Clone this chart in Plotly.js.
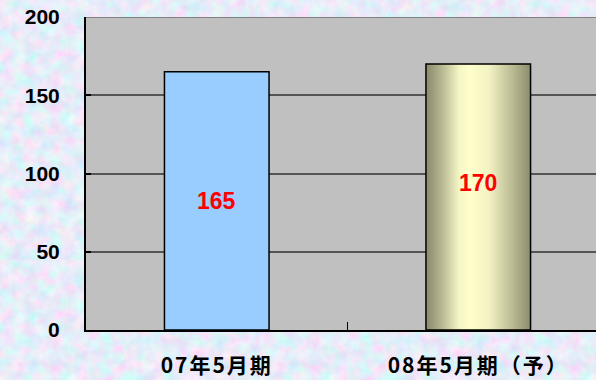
<!DOCTYPE html>
<html>
<head>
<meta charset="utf-8">
<script src="https://cdn.plot.ly/plotly-3.0.1.min.js"></script>
<style>
  html, body { margin: 0; padding: 0; width: 596px; height: 380px; overflow: hidden; }
  #chart { width: 620px; height: 380px; }
  .xtick text { letter-spacing: 2px; }
</style>
</head>
<body>
<div id="chart"></div>
<script>
// Periods and values per period
const categories = ['07年5月期', '08年5月期（予）'];
const values = [165, 170];
const valueLabels = ['165', '170'];
const yTicks = [0, 50, 100, 150, 200];

// Textured lavender / sky-blue backdrop for the whole page
const noiseSvg =
  "<svg xmlns='http://www.w3.org/2000/svg' width='260' height='260'>" +
  "<filter id='n'><feTurbulence type='fractalNoise' baseFrequency='0.08' numOctaves='4' seed='11'/>" +
  "<feColorMatrix type='matrix' values='0.6 -0.2 0 0 0.6  -0.14 0.42 0 0 0.7  0 0 0.16 0 0.86  0 0 0 0 1'/></filter>" +
  "<rect width='100%' height='100%' filter='url(#n)'/></svg>";
document.body.style.background = "#cbd3f2 url(\"data:image/svg+xml," + encodeURIComponent(noiseSvg) + "\")";

const labelShift = [0, 14];

const trace = {
  type: 'bar',
  x: categories,
  y: values,
  width: 0.4,
  marker: {
    color: ['#99ccff', '#eeeebb'],
    line: { color: '#000000', width: 1.5 }
  },
  hoverinfo: 'skip'
};

const annotations = values.map((v, i) => ({
  x: categories[i],
  y: v / 2,
  yshift: labelShift[i],
  text: valueLabels[i],
  showarrow: false,
  font: { family: 'Liberation Sans, Arial, sans-serif', size: 23, color: '#ff0000', weight: 'bold' }
}));

const layout = {
  width: 620,
  height: 380,
  margin: { l: 86, r: 11, t: 17, b: 50 },
  paper_bgcolor: 'rgba(0,0,0,0)',
  plot_bgcolor: '#c0c0c0',
  showlegend: false,
  xaxis: {
    type: 'category',
    range: [-0.5, 1.5],
    showline: true,
    linecolor: '#000000',
    linewidth: 2,
    ticks: 'inside',
    tickson: 'boundaries',
    ticklen: 8,
    tickcolor: '#000000',
    tickwidth: 1,
    showgrid: false,
    ticklabelstandoff: 16,
    tickfont: { family: 'Noto Sans CJK JP, sans-serif', size: 21, color: '#000000', weight: 'bold' },
    fixedrange: true
  },
  yaxis: {
    range: [0, 200],
    tickvals: yTicks,
    showline: true,
    linecolor: '#000000',
    linewidth: 2,
    ticks: 'inside',
    ticklen: 5,
    tickcolor: '#000000',
    tickwidth: 2,
    showgrid: true,
    gridcolor: '#555555',
    gridwidth: 2,
    zeroline: false,
    ticklabelstandoff: 20,
    tickfont: { family: 'Liberation Sans, Arial, sans-serif', size: 21, color: '#000000', weight: 'bold' },
    fixedrange: true
  },
  shapes: [{
    type: 'line', xref: 'paper', yref: 'y',
    x0: 0, x1: 1, y0: 200, y1: 200,
    line: { color: '#808080', width: 2 }
  }],
  annotations: annotations
};

Plotly.newPlot('chart', [trace], layout, { staticPlot: true, displayModeBar: false }).then(gd => {
  // Cylinder-style shading for the forecast bar
  const svg = gd.querySelector('svg.main-svg');
  const ns = 'http://www.w3.org/2000/svg';
  const defs = document.createElementNS(ns, 'defs');
  const grad = document.createElementNS(ns, 'linearGradient');
  grad.setAttribute('id', 'cylShade');
  grad.setAttribute('x1', '0'); grad.setAttribute('x2', '1');
  grad.setAttribute('y1', '0'); grad.setAttribute('y2', '0');
  [[0, '#8a8a6c'], [0.14, '#b3b38f'], [0.32, '#f6f6c6'], [0.42, '#ffffcc'],
   [0.6, '#f3f3c3'], [0.82, '#bcbc95'], [1, '#8d8d6f']].forEach(([o, c]) => {
    const s = document.createElementNS(ns, 'stop');
    s.setAttribute('offset', o);
    s.setAttribute('stop-color', c);
    grad.appendChild(s);
  });
  defs.appendChild(grad);
  svg.insertBefore(defs, svg.firstChild);
  const bars = gd.querySelectorAll('.barlayer .point path');
  if (bars[1]) bars[1].style.fill = 'url(#cylShade)';
});
</script>
</body>
</html>
